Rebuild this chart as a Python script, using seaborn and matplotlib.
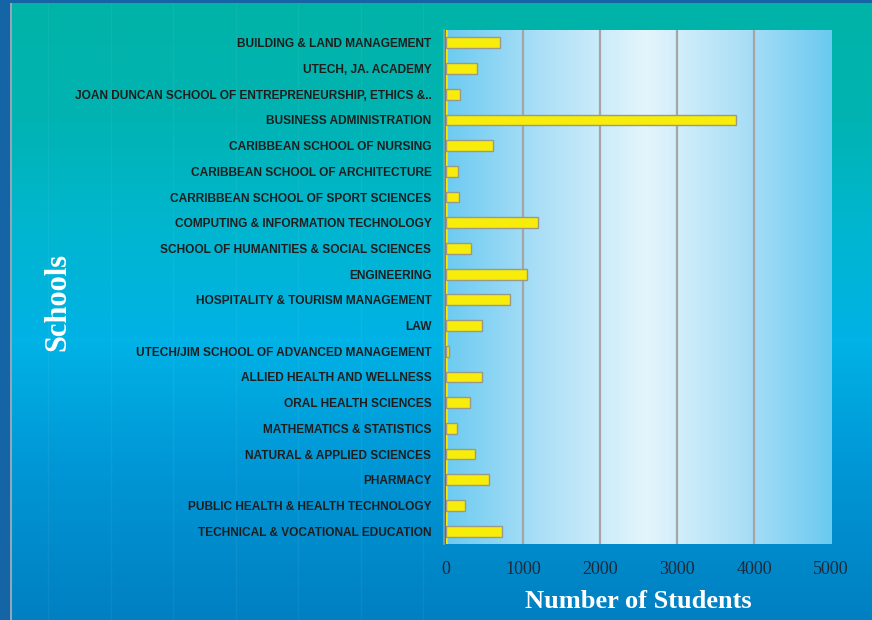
import numpy as np
import pandas as pd
import matplotlib
matplotlib.use("Agg")
import matplotlib.pyplot as plt
from matplotlib.colors import LinearSegmentedColormap
import seaborn as sns

schools = [
    "BUILDING & LAND MANAGEMENT",
    "UTECH, JA. ACADEMY",
    "JOAN DUNCAN SCHOOL OF ENTREPRENEURSHIP, ETHICS &..",
    "BUSINESS ADMINISTRATION",
    "CARIBBEAN SCHOOL OF NURSING",
    "CARIBBEAN SCHOOL OF ARCHITECTURE",
    "CARRIBBEAN SCHOOL OF SPORT SCIENCES",
    "COMPUTING & INFORMATION TECHNOLOGY",
    "SCHOOL OF HUMANITIES & SOCIAL SCIENCES",
    "ENGINEERING",
    "HOSPITALITY & TOURISM MANAGEMENT",
    "LAW",
    "UTECH/JIM SCHOOL OF ADVANCED MANAGEMENT",
    "ALLIED HEALTH AND WELLNESS",
    "ORAL HEALTH SCIENCES",
    "MATHEMATICS & STATISTICS",
    "NATURAL & APPLIED SCIENCES",
    "PHARMACY",
    "PUBLIC HEALTH & HEALTH TECHNOLOGY",
    "TECHNICAL & VOCATIONAL EDUCATION",
]
students = [705, 400, 182, 3760, 615, 160, 170, 1190, 320, 1055,
            835, 470, 45, 468, 312, 148, 378, 563, 252, 732]
x_ticks = [0, 1000, 2000, 3000, 4000, 5000]

df = pd.DataFrame({"School": schools, "Students": students})

sns.set_theme(style="white")
plt.rcParams["font.family"] = ["Liberation Sans", "DejaVu Sans"]

fig = plt.figure(figsize=(8.72, 6.2), dpi=100, facecolor="#1565A6")

# figure background gradient (teal top -> blue bottom)
bg = fig.add_axes([10 / 872, 0, 1 - 10 / 872, 1 - 3 / 620], zorder=-10)
bg_cmap = LinearSegmentedColormap.from_list(
    "bg", [(0.0, "#00B3A7"), (0.18, "#00B3B2"), (0.34, "#00B6CC"),
           (0.55, "#00B2E6"), (0.75, "#0097D6"), (1.0, "#0080C2")])
grad = np.linspace(0, 1, 256).reshape(-1, 1)
bg.imshow(grad, aspect="auto", cmap=bg_cmap, extent=[0, 1, 0, 1], origin="upper")
for xv in [0.044, 0.117, 0.189, 0.262, 0.334, 0.407, 0.479]:
    bg.axvline(xv, color="white", alpha=0.05, lw=1)
bg.axvline(0.0015, color="#8FA8B8", lw=1.5)
bg.set_xlim(0, 1)
bg.set_ylim(0, 1)
bg.axis("off")

ax = fig.add_axes([446 / 872, 1 - 544 / 620, 385 / 872, 514 / 620])

# plot area horizontal gradient
pa_cmap = LinearSegmentedColormap.from_list(
    "pa", [(0.0, "#6CCBF1"), (0.22, "#A6DDF6"), (0.52, "#E4F5FC"),
           (0.78, "#A9DEF6"), (1.0, "#6ACAF0")])
hgrad = np.linspace(0, 1, 256).reshape(1, -1)
ax.imshow(hgrad, aspect="auto", cmap=pa_cmap, extent=[0, 5000, 19.5, -0.5],
          zorder=0)

sns.barplot(data=df, x="Students", y="School", orient="h", ax=ax,
            color="#F7EC0A", edgecolor="#9A9A8A", linewidth=1.0,
            width=0.42, saturation=1, zorder=3)

ax.set_xlim(0, 5000)
ax.set_ylim(19.5, -0.5)
ax.set_xticks(x_ticks)
ax.grid(False)
for xv in x_ticks[1:-1]:
    ax.axvline(xv, color="#A5A5A5", lw=1.6, zorder=1)
ax.axvline(0, color="#F5EB00", lw=2.6, zorder=2.6)

for s in ["top", "right", "bottom"]:
    ax.spines[s].set_visible(False)
ax.spines["left"].set_color("#9A9A9A")
ax.spines["left"].set_linewidth(1.2)
ax.spines["left"].set_position(("outward", 1.5))

ax.set_yticks(range(len(schools)))
ax.set_yticklabels(schools, fontsize=8.6, fontweight="bold", color="#1E1E1E",
                   family=["Liberation Sans", "DejaVu Sans"])
ax.tick_params(axis="y", which="major", length=0, pad=9)
ax.set_yticks(np.arange(-0.5, len(schools), 1.0), minor=True)
ax.tick_params(axis="y", which="minor", length=4, color="#9A9A9A", width=1, direction="out")

ax.set_xticklabels([str(v) for v in x_ticks], fontsize=13, color="#1E2A38",
                   family=["Liberation Serif", "DejaVu Serif"])
ax.tick_params(axis="x", length=0, pad=12)

ax.set_xlabel("Number of Students", fontsize=19, fontweight="bold", color="white",
              family=["Liberation Serif", "DejaVu Serif"], labelpad=9)
ax.set_ylabel("")
fig.text(0.066, 0.513, "Schools", rotation=90, fontsize=22, fontweight="bold",
         color="white", family=["Liberation Serif", "DejaVu Serif"],
         ha="center", va="center")

fig.savefig("out.png", dpi=100, facecolor=fig.get_facecolor())
